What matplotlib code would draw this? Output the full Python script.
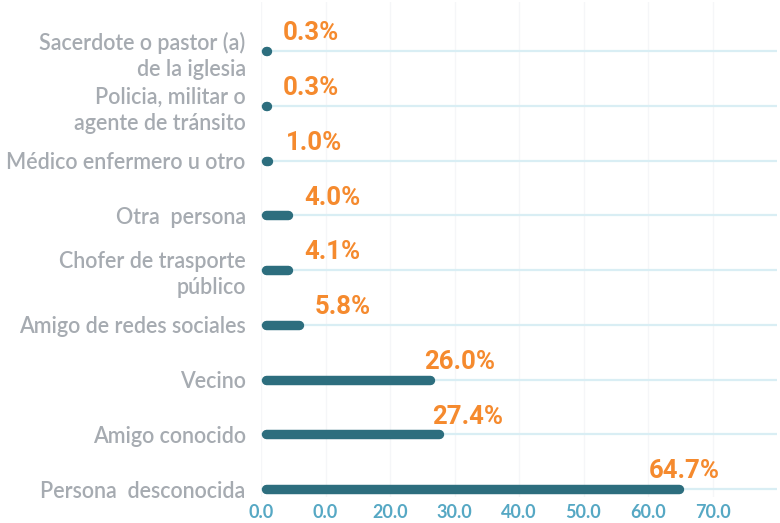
import numpy as np
import matplotlib
matplotlib.use("Agg")
import matplotlib.pyplot as plt

categories = [
    "Sacerdote o pastor (a)\nde la iglesia",
    "Policia, militar o\nagente de tránsito",
    "Médico enfermero u otro",
    "Otra  persona",
    "Chofer de trasporte\npúblico",
    "Amigo de redes sociales",
    "Vecino",
    "Amigo conocido",
    "Persona  desconocida",
]
values = [0.3, 0.3, 1.0, 4.0, 4.1, 5.8, 26.0, 27.4, 64.7]
xticks = [0, 10, 20, 30, 40, 50, 60, 70]
xtick_labels = ["0.0", "0.0", "20.0", "30.0", "40.0", "50.0", "60.0", "70.0"]

BAR = "#2d6e7e"
ORANGE = "#f58a2e"
GRAY = "#a6abb1"
TICKBLUE = "#56a8c4"
HGRID = "#d9eef4"
VGRID = "#f5f6f8"

W, H, DPI = 780, 523, 100
fig = plt.figure(figsize=(W / DPI, H / DPI), dpi=DPI)
left_px, right_px, top_px, bottom_px = 261, 777, 2, 497
ax = fig.add_axes([left_px / W, (H - bottom_px) / H,
                   (right_px - left_px) / W, (bottom_px - top_px) / H])

n = len(categories)
ys = np.arange(n)[::-1]
unit_px = (right_px - left_px) / 80.0
ax.set_xlim(0, 80)
ax.set_ylim(-(bottom_px - 489) / 54.75, 8 + (51 - top_px) / 54.75)

# grids
for x in xticks:
    ax.axvline(x, color=VGRID, lw=1, zorder=0)
for y in ys:
    ax.axhline(y, color=HGRID, lw=1.6, zorder=1)

lw_pt = 6.8
r = (lw_pt / 72 * DPI / 2) / unit_px  # half width in data units
for y, v in zip(ys, values):
    x0 = r
    x1 = max(v + 0.2 * r, x0 + 0.2)
    ax.plot([x0, x1], [y, y], color=BAR, lw=lw_pt, solid_capstyle="round", zorder=3)
    ax.annotate(f"{v:.1f}%", xy=(0.9 * v + 7.4, y), xytext=(0, 4),
                textcoords="offset points", ha="center", va="bottom",
                color=ORANGE, fontsize=18.5, fontweight="bold", family="Roboto",
                zorder=4)

ax.set_yticks(ys)
ax.set_yticklabels(categories, fontsize=15.5, color=GRAY, family="Lato",
                   fontweight="semibold", linespacing=1.32)
ax.set_xticks(xticks)
ax.set_xticklabels(xtick_labels, fontsize=13, color=TICKBLUE, family="Lato",
                   fontweight="bold")
ax.tick_params(axis="y", length=0, pad=11)
ax.tick_params(axis="x", length=0, pad=5)
for s in ax.spines.values():
    s.set_visible(False)

fig.savefig("out.png", dpi=DPI)
